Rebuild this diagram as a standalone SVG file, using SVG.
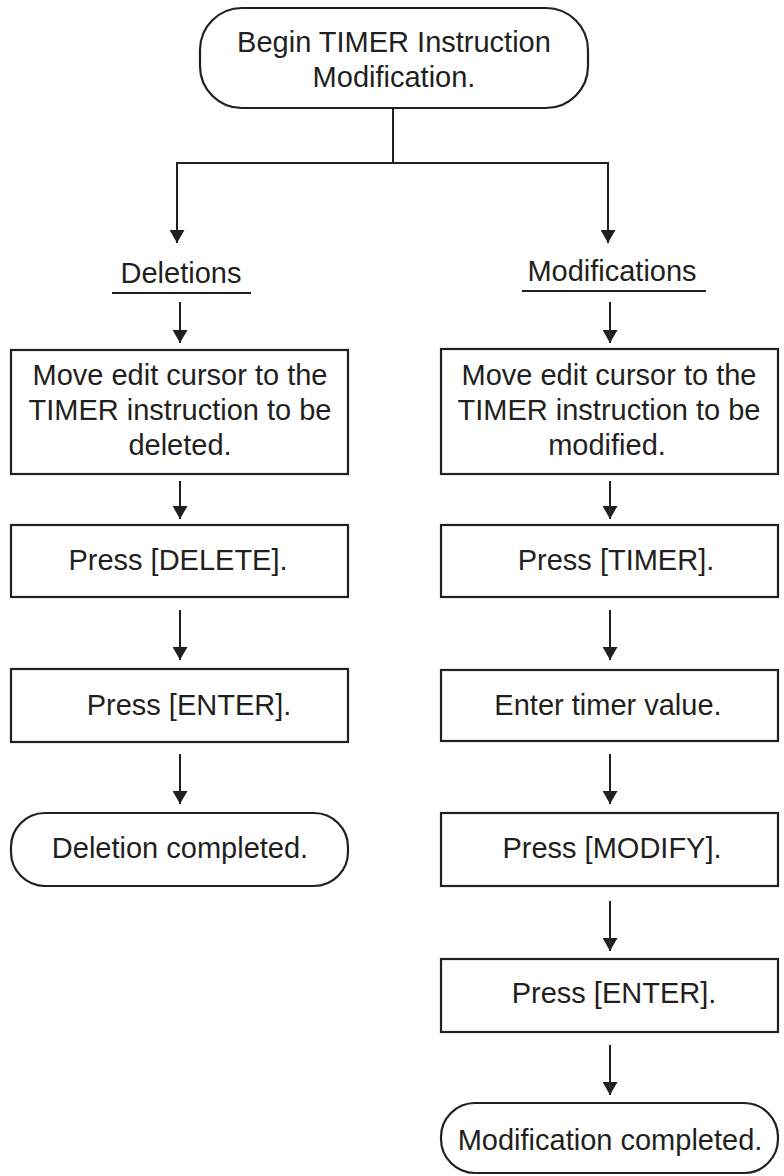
<svg xmlns="http://www.w3.org/2000/svg" width="784" height="1176" viewBox="0 0 784 1176">
<defs>
<marker id="ah" viewBox="0 0 13 15" refX="13" refY="7.5" markerWidth="13" markerHeight="15" markerUnits="userSpaceOnUse" orient="auto">
<path d="M0,0 L13,7.5 L0,15 Z" fill="#231f20"/>
</marker>
</defs>
<style>
.box{fill:#fff;stroke:#231f20;stroke-width:2.2}
.t{font-family:"Liberation Sans",Arial,sans-serif;font-size:29px;fill:#231f20;text-anchor:middle}
.c{fill:none;stroke:#231f20;stroke-width:2}
</style>
<rect width="784" height="1176" fill="#fff"/>
<g id="connectors">
<path class="c" d="M393,108 V163 M177,163 H608"/>
<path class="c" d="M177,162 V243" marker-end="url(#ah)"/>
<path class="c" d="M608,162 V243" marker-end="url(#ah)"/>
<line class="c" x1="112" y1="293" x2="251" y2="293"/>
<line class="c" x1="522" y1="291" x2="706" y2="291"/>
<path class="c" d="M180,302 V343" marker-end="url(#ah)"/>
<path class="c" d="M180,481 V519" marker-end="url(#ah)"/>
<path class="c" d="M180,610 V660" marker-end="url(#ah)"/>
<path class="c" d="M180,754 V804" marker-end="url(#ah)"/>
<path class="c" d="M610,302 V343" marker-end="url(#ah)"/>
<path class="c" d="M610,481 V519" marker-end="url(#ah)"/>
<path class="c" d="M610,610 V660" marker-end="url(#ah)"/>
<path class="c" d="M610,754 V804" marker-end="url(#ah)"/>
<path class="c" d="M610,901 V951" marker-end="url(#ah)"/>
<path class="c" d="M610,1045 V1095" marker-end="url(#ah)"/>
</g>
<g id="start">
<rect class="box" x="200" y="8" width="388" height="100" rx="42" ry="42"/>
<text class="t" x="394" y="52">Begin TIMER Instruction</text>
<text class="t" x="394" y="87">Modification.</text>
</g>
<g id="deletions-label"><text class="t" x="181" y="283">Deletions</text></g>
<g id="modifications-label"><text class="t" x="612" y="281">Modifications</text></g>
<g id="del-move">
<rect class="box" x="11" y="350" width="337" height="124"/>
<text class="t" x="180" y="385">Move edit cursor to the</text>
<text class="t" x="180" y="420">TIMER instruction to be</text>
<text class="t" x="180" y="455">deleted.</text>
</g>
<g id="del-press-delete">
<rect class="box" x="11" y="525" width="337" height="72"/>
<text class="t" x="178" y="570">Press [DELETE].</text>
</g>
<g id="del-press-enter">
<rect class="box" x="11" y="669" width="337" height="73"/>
<text class="t" x="189" y="715">Press [ENTER].</text>
</g>
<g id="del-done">
<rect class="box" x="11" y="813" width="337" height="73" rx="34" ry="34"/>
<text class="t" x="180" y="858">Deletion completed.</text>
</g>
<g id="mod-move">
<rect class="box" x="441" y="349" width="337" height="125"/>
<text class="t" x="609" y="385">Move edit cursor to the</text>
<text class="t" x="609" y="420">TIMER instruction to be</text>
<text class="t" x="607" y="455">modified.</text>
</g>
<g id="mod-press-timer">
<rect class="box" x="441" y="525" width="337" height="72"/>
<text class="t" x="616" y="570">Press [TIMER].</text>
</g>
<g id="mod-enter-value">
<rect class="box" x="441" y="670" width="337" height="71"/>
<text class="t" x="608" y="715">Enter timer value.</text>
</g>
<g id="mod-press-modify">
<rect class="box" x="441" y="813" width="337" height="73"/>
<text class="t" x="612" y="858">Press [MODIFY].</text>
</g>
<g id="mod-press-enter">
<rect class="box" x="441" y="959" width="337" height="73"/>
<text class="t" x="614" y="1003">Press [ENTER].</text>
</g>
<g id="mod-done">
<rect class="box" x="441" y="1103" width="337" height="70" rx="34" ry="34"/>
<text class="t" x="610" y="1150">Modification completed.</text>
</g>
</svg>
